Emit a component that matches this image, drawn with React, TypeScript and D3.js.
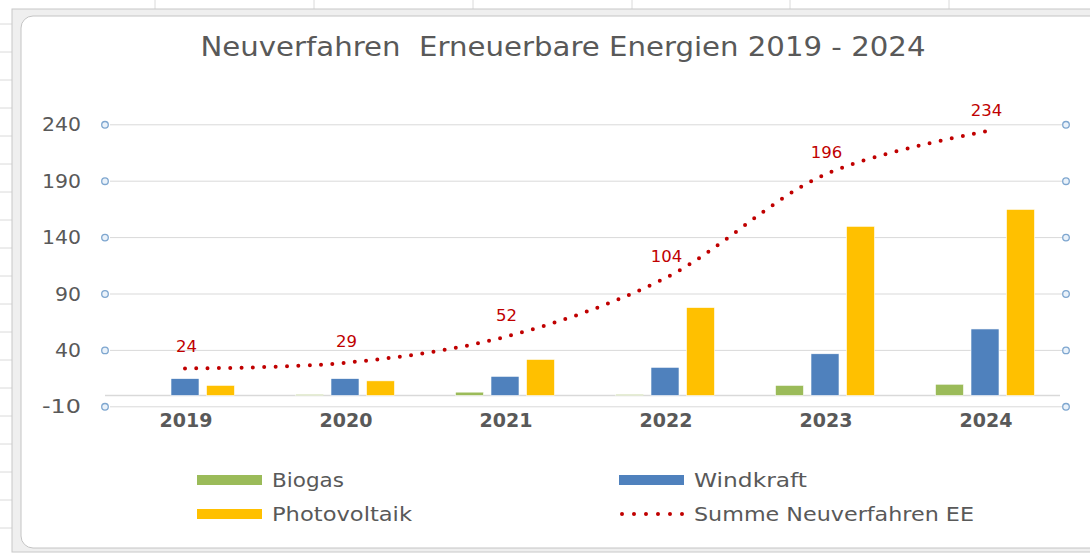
import React from "react";
import * as d3 from "d3";

const years = ["2019", "2020", "2021", "2022", "2023", "2024"];
const biogas = [0, 1, 3, 1, 9, 10];
const windkraft = [15, 15, 17, 25, 37, 59];
const photovoltaik = [9, 13, 32, 78, 150, 165];
const summe = [24, 29, 52, 104, 196, 234];
const yTicks = [-10, 40, 90, 140, 190, 240];
const seriesNames = ["Biogas", "Windkraft", "Photovoltaik"];
const seriesColors = ["#9bbb59", "#4f81bd", "#ffc000"];
const lineName = "Summe Neuverfahren EE";
const title = "Neuverfahren  Erneuerbare Energien 2019 - 2024";

const W = 1090;
const H = 554;
const FONT = "'DejaVu Sans', sans-serif";
const GREY = "#595959";
const RED = "#c00000";

export default function App() {
  const x = d3.scaleBand().domain(years).range([105, 1065]);
  const xi = d3.scaleBand().domain(seriesNames).range([-49.5, 49.5]).paddingInner(0.211);
  const y = d3.scaleLinear().domain([-10, 240]).range([406.8, 124.8]);
  const cx = (yr: string) => (x(yr) as number) + x.bandwidth() / 2;
  const values = [biogas, windkraft, photovoltaik];

  const line = d3
    .line<number>()
    .x((_, i) => cx(years[i]))
    .y((v) => y(v))
    .curve(d3.curveCatmullRom.alpha(0.5));

  // approximate curve length from chords to place dots evenly, ending at the last point
  let chord = 0;
  for (let i = 1; i < summe.length; i++) {
    chord += Math.hypot(cx(years[i]) - cx(years[i - 1]), y(summe[i]) - y(summe[i - 1]));
  }
  const nDots = Math.round((chord * 1.01) / 11.5);

  const colLines = [155, 314, 473, 632, 790, 949];
  const rowLines = d3.range(24, 554, 28);

  const legend = [
    { name: seriesNames[0], color: seriesColors[0], lx: 197, ly: 480, type: "bar", tl: 72 },
    { name: seriesNames[1], color: seriesColors[1], lx: 619, ly: 480, type: "bar", tl: 113 },
    { name: seriesNames[2], color: seriesColors[2], lx: 197, ly: 514, type: "bar", tl: 140 },
    { name: lineName, color: RED, lx: 619, ly: 514, type: "line", tl: 280 },
  ];

  return (
    <svg
      width={W}
      height={H}
      style={{ position: "absolute", left: 0, top: 0, background: "#ffffff" }}
      fontFamily={FONT}
    >
      {/* spreadsheet surroundings */}
      {colLines.map((c) => (
        <line key={"c" + c} x1={c} x2={c} y1={0} y2={10} stroke="#dadada" />
      ))}
      {rowLines.map((r) => (
        <line key={"r" + r} x1={0} x2={12} y1={r} y2={r} stroke="#dadada" />
      ))}
      <rect x={12} y={9} width={1100} height={543} fill="#efefef" stroke="#c8c8c8" />
      <rect x={21} y={16} width={1090} height={532} rx={12} fill="#ffffff" stroke="#c4c4c4" />

      {/* title */}
      <text
        x={563}
        y={56}
        textAnchor="middle"
        fontSize={26}
        fill={GREY}
        textLength={725}
        lengthAdjust="spacingAndGlyphs"
        xmlSpace="preserve"
        style={{ whiteSpace: "pre" }}
      >
        {title}
      </text>

      {/* gridlines */}
      {yTicks.map((t) => (
        <g key={t}>
          <line x1={110} x2={1062} y1={y(t)} y2={y(t)} stroke="#d9d9d9" strokeWidth={1} />
          <circle cx={105} cy={y(t)} r={3.3} fill="#eaf2fa" stroke="#7ea6cf" strokeWidth={1.3} />
          <circle cx={1066} cy={y(t)} r={3.3} fill="#eaf2fa" stroke="#7ea6cf" strokeWidth={1.3} />
          <text
            x={81}
            y={y(t) + 6.5}
            textAnchor="end"
            fontSize={19}
            fill={GREY}
            textLength={String(t).length === 3 ? 39 : 26}
            lengthAdjust="spacingAndGlyphs"
          >
            {t}
          </text>
        </g>
      ))}
      <line x1={105} x2={1060} y1={y(0)} y2={y(0)} stroke="#d9d9d9" strokeWidth={1.5} />

      {/* bars */}
      {years.map((yr, i) => (
        <g key={yr} transform={`translate(${cx(yr)},0)`}>
          {seriesNames.map((s, k) => {
            const v = values[k][i];
            if (v <= 0) return null;
            return (
              <rect
                key={s}
                x={xi(s) as number}
                width={xi.bandwidth()}
                y={y(v)}
                height={y(0) - y(v)}
                fill={seriesColors[k]}
                stroke="#ffffff"
                strokeWidth={0.6}
              />
            );
          })}
          <text
            x={1}
            y={427}
            textAnchor="middle"
            fontSize={19}
            fontWeight="bold"
            fill={GREY}
            textLength={53}
            lengthAdjust="spacingAndGlyphs"
          >
            {yr}
          </text>
        </g>
      ))}

      {/* line */}
      <path
        d={line(summe) || ""}
        fill="none"
        stroke={RED}
        strokeWidth={4}
        strokeLinecap="round"
        pathLength={nDots}
        strokeDasharray="0 0.9999"
      />
      {summe.map((v, i) => (
        <text
          key={i}
          x={cx(years[i]) + 1.5}
          y={y(v) - 16}
          textAnchor="middle"
          fontSize={16.5}
          fill={RED}
        >
          {v}
        </text>
      ))}

      {/* legend */}
      {legend.map((l) => (
        <g key={l.name}>
          {l.type === "bar" ? (
            <rect x={l.lx} y={l.ly - 5} width={65} height={10} fill={l.color} />
          ) : (
            <line
              x1={l.lx + 3}
              x2={l.lx + 63}
              y1={l.ly}
              y2={l.ly}
              stroke={l.color}
              strokeWidth={4}
              strokeLinecap="round"
              pathLength={5}
              strokeDasharray="0 0.9999"
            />
          )}
          <text
            x={l.lx + 75}
            y={l.ly + 7}
            fontSize={19}
            fill={GREY}
            textLength={l.tl}
            lengthAdjust="spacingAndGlyphs"
          >
            {l.name}
          </text>
        </g>
      ))}
    </svg>
  );
}
